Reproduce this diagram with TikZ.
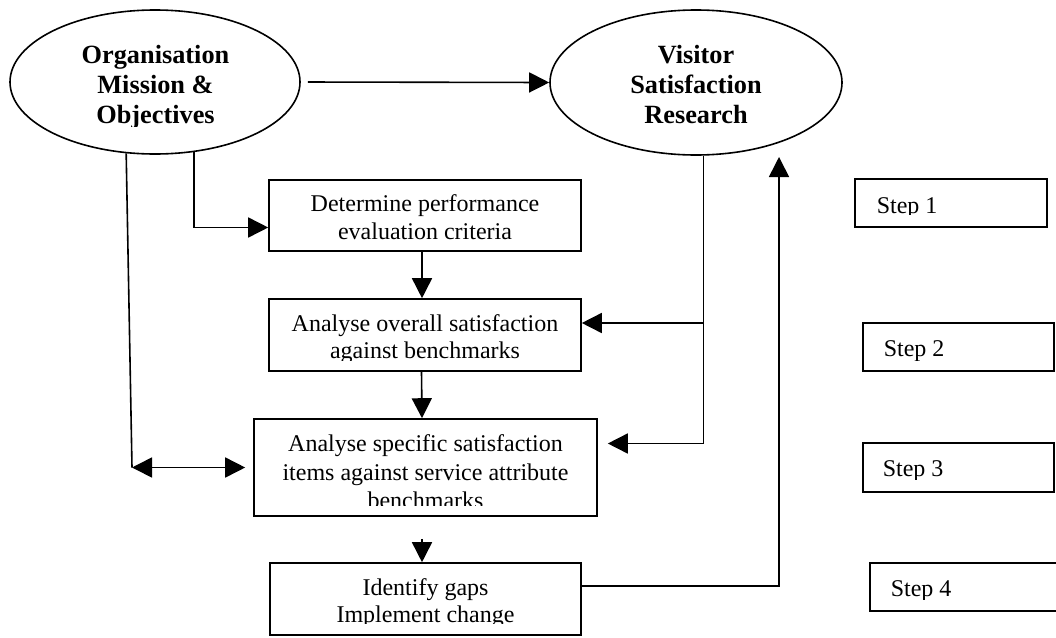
\documentclass[tikz,border=0pt]{standalone}
\usepackage{fontspec}
\setmainfont{Liberation Serif}
\usetikzlibrary{arrows.meta,shapes.geometric,calc}

\begin{document}
\begin{tikzpicture}[x=1pt,y=-1pt,
  line width=1.6pt,
  tip/.style={-{Triangle[length=20pt,width=20pt]}},
  bothtip/.style={{Triangle[length=20pt,width=20pt]}-{Triangle[length=20pt,width=20pt]}},
  oval/.style={ellipse,draw,inner sep=0pt},
  stage/.style={rectangle,draw,inner sep=0pt},
  txt/.style={anchor=base,inner sep=0pt,font=\fontsize{24}{28}\selectfont},
  btxt/.style={txt,font=\fontsize{26.3}{30}\selectfont\bfseries},
  steptxt/.style={txt,anchor=base west},
]
% page
\fill[white] (0,0) rectangle (1056,637);
\clip (0,0) rectangle (1056,637);

% ovals
\node[oval,minimum width=290pt,minimum height=144pt] (org) at (155,82) {};
\node[oval,minimum width=292pt,minimum height=145pt] (vsr) at (696,82.5) {};

\node[btxt] (org1) at (155.5,63.3) {Organisation};
\node[btxt] (org2) at (155.5,93.3) {Mission \&};
\begin{scope}
  \clip (0,0) rectangle (320,126);
  \node[btxt] (org3) at (155.5,123.3) {Objectives};
\end{scope}
\node[btxt] (vsr1) at (696,63.3) {Visitor};
\node[btxt] (vsr2) at (696,93.3) {Satisfaction};
\node[btxt] (vsr3) at (696,123.5) {Research};

% process boxes
\node[stage,minimum width=312pt,minimum height=71pt] (b1) at (425,215.5) {};
\node[stage,minimum width=312pt,minimum height=72pt] (b2) at (425,335) {};
\node[stage,minimum width=343pt,minimum height=97pt] (b3) at (425.5,467.5) {};
\node[stage,minimum width=311pt,minimum height=72pt] (b4) at (425.5,599) {};

\node[txt] (b1a) at (425,211.7) {Determine performance};
\node[txt] (b1b) at (425,239.7) {evaluation criteria};

\node[txt] (b2a) at (425,331.7) {Analyse overall satisfaction};
\begin{scope}
  \clip (269,299) rectangle (581,360);
  \node[txt] (b2b) at (425,358.3) {against benchmarks};
\end{scope}

\node[txt] (b3a) at (425.5,451.7) {Analyse specific satisfaction};
\node[txt] (b3b) at (425.5,480) {items against service attribute};
\begin{scope}
  \clip (254,419) rectangle (597,505);
  \node[txt] (b3c) at (425.5,508.3) {benchmarks};
\end{scope}

\node[txt] (b4a) at (425.5,595) {Identify gaps};
\begin{scope}
  \clip (270,563) rectangle (581,623.5);
  \node[txt] (b4b) at (425.5,622.5) {Implement change};
\end{scope}

% step boxes
\node[stage,minimum width=192pt,minimum height=48pt] (s1) at (951,203) {};
\node[stage,minimum width=191pt,minimum height=48pt] (s2) at (958.5,347) {};
\node[stage,minimum width=191pt,minimum height=49pt] (s3) at (958.5,467.5) {};
\node[stage,minimum width=192pt,minimum height=48pt] (s4) at (966,587) {};

\begin{scope}
  \clip (855,179) rectangle (1047,214.5);
  \node[steptxt] (s1t) at (876,213.5) {Step 1};
\end{scope}
\begin{scope}
  \clip (863,323) rectangle (1054,360);
  \node[steptxt] (s2t) at (883,356.7) {Step 2};
\end{scope}
\begin{scope}
  \clip (863,443) rectangle (1054,479);
  \node[steptxt] (s3t) at (882,476.7) {Step 3};
\end{scope}
\begin{scope}
  \clip (870,563) rectangle (1060,599);
  \node[steptxt] (s4t) at (890,596.7) {Step 4};
\end{scope}

% connectors
\draw[tip,shorten <=7pt] (org.east) -- (vsr.west);
\draw[tip] (org.-61.1) |- ($(b1.west)+(0,12)$);

\coordinate (elbow) at (132,467.5);
\draw (org.-112.6) -- (elbow);
\draw[bothtip,shorten >=8pt] (elbow) -- (b3.west);

\draw[tip] ([xshift=-3pt]b1.south) -- ([xshift=-3pt]b2.north);
\draw[tip] ([xshift=-3.5pt]b2.south) -- ([xshift=-3.5pt]b3.north);
\draw[tip,shorten <=22pt] ([xshift=-3.5pt]b3.south) -- ([xshift=-3.5pt]b4.north);

\coordinate (vtop) at (vsr.-84.2);
\coordinate (t2) at ([yshift=12pt]b2.east);
\draw[tip,shorten >=10pt] (vtop) |- ([yshift=24pt]b3.east);
\draw[tip] (vtop |- t2) -- (t2);

\coordinate (t4) at ([yshift=13pt]b4.east);
\coordinate (ret) at (779,157);
\draw[tip] (t4) -| (ret);
\end{tikzpicture}
\end{document}
